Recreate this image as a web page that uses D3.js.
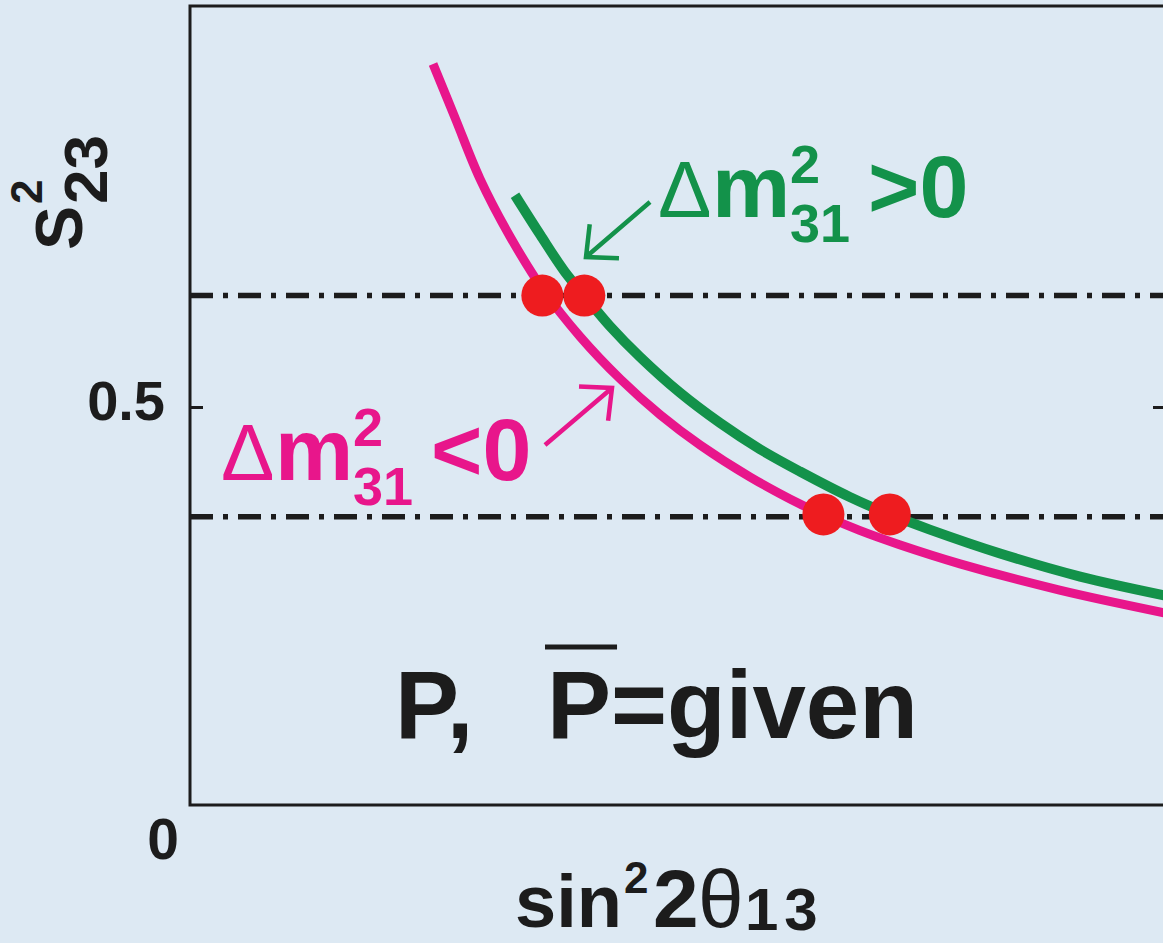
<!DOCTYPE html>
<html>
<head>
<meta charset="utf-8">
<script src="https://cdn.jsdelivr.net/npm/d3@7"></script>
<style>
  html, body { margin: 0; padding: 0; background: #dce8f2; overflow: hidden; }
  svg { display: block; }
  text { font-family: "Liberation Sans", Arial, Helvetica, sans-serif; font-weight: bold; }
</style>
</head>
<body>
<svg id="chart" width="1163" height="943"></svg>
<script>
// s23^2 versus sin^2(2 theta13) for a fixed pair of probabilities P and P-bar,
// one curve for each sign of Delta m^2_31.

// Delta m^2_31 < 0 branch
const negX = [0.0249, 0.0272, 0.0297, 0.0328, 0.0362, 0.0400, 0.0441, 0.0482, 0.0523,
              0.0574, 0.0625, 0.0649, 0.0686, 0.0727, 0.0789, 0.0891, 0.1000];
const negY = [0.931, 0.862, 0.787, 0.714, 0.647, 0.588, 0.535, 0.490, 0.452,
              0.412, 0.378, 0.364, 0.345, 0.327, 0.303, 0.270, 0.241];

// Delta m^2_31 > 0 branch
const posX = [0.0333, 0.0359, 0.0384, 0.0404, 0.0430, 0.0461, 0.0502, 0.0543, 0.0584,
              0.0625, 0.0676, 0.0717, 0.0758, 0.0830, 0.0912, 0.1000];
const posY = [0.766, 0.716, 0.670, 0.640, 0.602, 0.563, 0.518, 0.480, 0.447,
              0.419, 0.387, 0.365, 0.346, 0.316, 0.287, 0.263];

// the two theta23 octant values (dash-dot levels)
const levelValues = [0.64, 0.362];

// degenerate solutions where the curves cross those levels
const dotX = [0.0361, 0.0404, 0.0649, 0.0717];
const dotY = [0.64, 0.64, 0.365, 0.365];

// axis ticks
const yTickValues = [0.5];
const yTickLabels = ["0.5"];
const originLabel = "0";

const W = 1163, H = 943;
const plot = { left: 190, right: 1166, top: 6, bottom: 805 };

const colNeg = "#e8168b";
const colPos = "#13924a";
const colDot = "#ee1c1f";
const ink = "#1c1c1c";

const svg = d3.select("#chart");
svg.append("rect").attr("width", W).attr("height", H).attr("fill", "#dde9f3");

const x = d3.scaleLinear().domain([0, 0.1]).range([plot.left, plot.right]);
const y = d3.scaleLinear().domain([0, 1]).range([plot.bottom, 9]);

svg.append("clipPath").attr("id", "plotClip")
  .append("rect")
  .attr("x", plot.left).attr("y", plot.top)
  .attr("width", plot.right - plot.left).attr("height", plot.bottom - plot.top);

const inner = svg.append("g").attr("clip-path", "url(#plotClip)");

// dash-dot horizontal levels
inner.selectAll("line.level")
  .data(levelValues)
  .join("line")
  .attr("class", "level")
  .attr("x1", plot.left).attr("x2", plot.right)
  .attr("y1", d => y(d)).attr("y2", d => y(d))
  .attr("stroke", ink)
  .attr("stroke-width", 5.5)
  .attr("stroke-dasharray", "23 10 5 10");

const line = d3.line()
  .x(d => x(d[0]))
  .y(d => y(d[1]))
  .curve(d3.curveCatmullRom.alpha(0.5));

const negPts = negX.map((v, i) => [v, negY[i]]);
const posPts = posX.map((v, i) => [v, posY[i]]);

inner.append("path")
  .datum(negPts)
  .attr("d", line)
  .attr("fill", "none")
  .attr("stroke", colNeg)
  .attr("stroke-width", 9);

inner.append("path")
  .datum(posPts)
  .attr("d", line)
  .attr("fill", "none")
  .attr("stroke", colPos)
  .attr("stroke-width", 10);

// solution points
inner.selectAll("circle.sol")
  .data(dotX.map((v, i) => [v, dotY[i]]))
  .join("circle")
  .attr("class", "sol")
  .attr("cx", d => x(d[0]))
  .attr("cy", d => y(d[1]))
  .attr("r", 21)
  .attr("fill", colDot);

// frame
svg.append("path")
  .attr("d", `M${plot.right},${plot.top}H${plot.left}V${plot.bottom}H${plot.right}`)
  .attr("fill", "none")
  .attr("stroke", ink)
  .attr("stroke-width", 3);

// left axis: inward tick with label
const yAxis = d3.axisLeft(y)
  .tickValues(yTickValues)
  .tickFormat((d, i) => yTickLabels[i])
  .tickSizeInner(-13)
  .tickSizeOuter(0)
  .tickPadding(25);

const gy = svg.append("g")
  .attr("transform", `translate(${plot.left},0)`)
  .call(yAxis);
gy.select(".domain").remove();
gy.selectAll(".tick line").attr("stroke", ink).attr("stroke-width", 3);
gy.selectAll(".tick text")
  .attr("fill", ink)
  .style("font-size", "56px")
  .style("font-family", "'Liberation Sans', Arial, sans-serif")
  .style("font-weight", "bold")
  .attr("dy", "0.23em");

// right axis: matching inward tick
const gyr = svg.append("g")
  .attr("transform", `translate(${plot.right},0)`)
  .call(d3.axisRight(y).tickValues(yTickValues).tickFormat("").tickSizeInner(-13).tickSizeOuter(0));
gyr.select(".domain").remove();
gyr.selectAll(".tick line").attr("stroke", ink).attr("stroke-width", 3);

// origin label
svg.append("text")
  .attr("x", plot.left - 27)
  .attr("y", plot.bottom + 54)
  .attr("text-anchor", "middle")
  .attr("fill", ink)
  .style("font-size", "57px")
  .text(originLabel);

// y-axis title: s^2_23 (rotated)
const yTitle = svg.append("g").attr("transform", "translate(82,248) rotate(-90)").attr("fill", ink);
yTitle.append("text").attr("x", -2).attr("y", 0).style("font-size", "66px").text("S");
yTitle.append("text").attr("x", 44).attr("y", -40).style("font-size", "44px").text("2");
yTitle.append("text").attr("x", 44).attr("y", 25).style("font-size", "62px").text("23");

// x-axis title: sin^2 2theta_13
const xTitle = svg.append("g").attr("fill", ink);
xTitle.append("text").attr("x", 515).attr("y", 927).style("font-size", "74px").text("sin");
xTitle.append("text").attr("x", 624).attr("y", 893).style("font-size", "44px").text("2");
xTitle.append("text").attr("x", 653).attr("y", 927).style("font-size", "82px").text("2");
xTitle.append("text").attr("x", 698).attr("y", 927).style("font-size", "82px").style("font-weight", "normal").text("θ");
xTitle.append("text").attr("x", 745).attr("y", 930).style("font-size", "60px").style("letter-spacing", "6px").text("13");

// Delta m^2_31 labels
function deltaLabel(x0, base, color, rel) {
  const g = svg.append("g").attr("fill", color);
  g.append("text").attr("x", x0 - 2).attr("y", base).style("font-size", "80px").style("font-weight", "normal").text("Δ");
  g.append("text").attr("x", x0 + 52).attr("y", base).style("font-size", "88px").text("m");
  g.append("text").attr("x", x0 + 130).attr("y", base - 34).style("font-size", "54px").text("2");
  g.append("text").attr("x", x0 + 130).attr("y", base + 25).style("font-size", "54px").text("31");
  g.append("text").attr("x", x0 + 208).attr("y", base).style("font-size", "88px").text(rel + "0");
}
deltaLabel(660, 217, colPos, ">");
deltaLabel(223, 480, colNeg, "<");

// open-headed arrows pointing at each curve
function arrow(x1, y1, x2, y2, color) {
  const ang = Math.atan2(y1 - y2, x1 - x2);
  const L = 33, spread = Math.PI / 4.2;
  const a1 = [x2 + L * Math.cos(ang + spread), y2 + L * Math.sin(ang + spread)];
  const a2 = [x2 + L * Math.cos(ang - spread), y2 + L * Math.sin(ang - spread)];
  const p = d3.path();
  p.moveTo(x1, y1); p.lineTo(x2, y2);
  p.moveTo(a1[0], a1[1]); p.lineTo(x2, y2); p.lineTo(a2[0], a2[1]);
  svg.append("path").attr("d", p.toString())
    .attr("fill", "none").attr("stroke", color).attr("stroke-width", 4.5)
    .attr("stroke-linecap", "butt").attr("stroke-linejoin", "miter");
}
arrow(650, 202, 586, 257, colPos);
arrow(545, 445, 612, 388, colNeg);

// caption: "P,  P̄=given"
const capSize = "96px";
svg.append("text")
  .attr("x", 395).attr("y", 738)
  .attr("fill", ink)
  .style("font-size", capSize)
  .text("P,");
const pBarX = 547;
const cap2 = svg.append("text")
  .attr("x", pBarX).attr("y", 738)
  .attr("fill", ink)
  .style("font-size", capSize)
  .text("P=given");
const pAdv = cap2.node().getSubStringLength(0, 1);
svg.append("line")
  .attr("x1", pBarX - 2).attr("x2", pBarX + pAdv + 6)
  .attr("y1", 647).attr("y2", 647)
  .attr("stroke", ink).attr("stroke-width", 5);
</script>
</body>
</html>
